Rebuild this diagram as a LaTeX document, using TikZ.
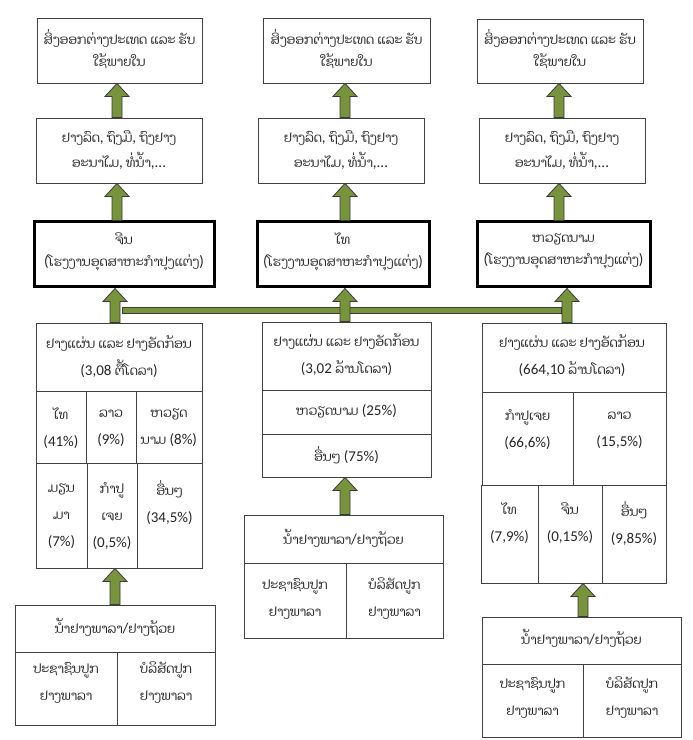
\documentclass[tikz,border=0pt]{standalone}
\usepackage{fontspec}
\setmainfont{Carlito}
\newfontfamily\laofont[Script=Lao, Scale=0.85]{Dhyana}
\newcommand\lo[1]{{\laofont #1}}
\usetikzlibrary{fit,calc}
\definecolor{arrowgreen}{HTML}{77933C}
\definecolor{arrowedge}{HTML}{3B3B3B}
\definecolor{boxedge}{HTML}{404040}
\tikzset{
  cell/.style={draw=boxedge, line width=0.9pt, inner sep=0pt, fill=white},
  heavy/.style={draw=black, line width=3pt, inner sep=0pt, fill=white},
  txt/.style={inner sep=0pt, align=center, text=black!85, font=\fontsize{15}{22}\selectfont},
  txtm/.style={txt, font=\fontsize{15}{25}\selectfont},
  txtw/.style={txt, font=\fontsize{15}{27}\selectfont},
  arrowbody/.style={draw=arrowedge, line width=0.8pt, fill=arrowgreen, line join=miter},
  barbody/.style={draw=arrowedge, line width=0.9pt, fill=arrowgreen},
}
\newcommand\greenarr[2]{\path[arrowbody] let \p1=(#1), \p2=(#2) in
  (\x1-5pt,\y1) -- (\x1-5pt,\y2-13pt) -- (\x1-12pt,\y2-13pt) -- (\x1,\y2) --
  (\x1+12pt,\y2-13pt) -- (\x1+5pt,\y2-13pt) -- (\x1+5pt,\y1) -- cycle;}
\begin{document}
\begin{tikzpicture}[x=1pt,y=1pt]
\path[use as bounding box, fill=white] (0,0) rectangle (693,740);
% arrow axes
\coordinate (ax1) at (117,0);
\coordinate (ax1b) at (115,0);
\coordinate (ax2) at (345,0);
\coordinate (ax3) at (559,0);
\coordinate (ax3b) at (567,0);
\coordinate (ax3c) at (583,0);
% ---------- column 1 ----------
\node[cell, fit={(37,722)(202,657)}] (top1) {};
\node[txt] (top1t) at (119.5,691) {\lo{ສິ່ງອອກຕ່າງປະເທດ ແລະ ຮັບ}\\\lo{ໃຊ້ພາຍໃນ}};
\node[cell, fit={(36,622)(202,557)}] (mid1) {};
\node[txtm] (mid1t) at (119,590) {\lo{ຢາງລົດ}, \lo{ຖົງມື}, \lo{ຖົງຢາງ}\\\lo{ອະນາໄມ}, \lo{ທໍ່ນໍ້າ},...};
\node[heavy, fit={(34,518)(214,453)}] (fac1) {};
\node[txt] (fac1t) at (124,488.5) {\lo{ຈີນ}\\(\lo{ໂຮງງານອຸດສາຫະກຳປຸງແຕ່ງ})};
% table 1
\node[cell, fit={(36,417)(202,349)}] (hd1) {};
\node[txtw] (hd1t) at (119,383.5) {\lo{ຢາງແຜ່ນ ແລະ ຢາງອັດກ້ອນ}\\(3,08 \lo{ຕື້ໂດລາ})};
\node[cell, fit={(36,349)(86,277)}] (r1c1) {};
\node[cell, fit={(86,349)(136,277)}] (r1c2) {};
\node[cell, fit={(136,349)(202,277)}] (r1c3) {};
\node[txtw] (r1c1t) at (61,312) {\lo{ໄທ}\\(41\%)};
\node[txtw] (r1c2t) at (111,312) {\lo{ລາວ}\\(9\%)};
\node[txtw] (r1c3t) at (169,312) {\lo{ຫວຽດ}\\\lo{ນາມ} (8\%)};
\node[cell, fit={(36,277)(87,172)}] (r2c1) {};
\node[cell, fit={(87,277)(137,172)}] (r2c2) {};
\node[cell, fit={(137,277)(202,172)}] (r2c3) {};
\node[txtw] (r2c1t) at (61.5,224) {\lo{ມຽນ}\\\lo{ມາ}\\(7\%)};
\node[txtw] (r2c2t) at (112,224) {\lo{ກຳປູ}\\\lo{ເຈຍ}\\(0,5\%)};
\node[txtw] (r2c3t) at (169.5,237.5) {\lo{ອື່ນໆ}\\(34,5\%)};
% source 1
\node[cell, fit={(15,135)(215,88)}] (b1h) {};
\node[txt] (b1ht) at (115,113) {\lo{ນ້ຳຢາງພາລາ}/\lo{ຢາງຖ້ວຍ}};
\node[cell, fit={(15,88)(117,15)}] (b1a) {};
\node[cell, fit={(117,88)(215,15)}] (b1b) {};
\node[txtw] (b1at) at (66,57) {\lo{ປະຊາຊົນປູກ}\\\lo{ຢາງພາລາ}};
\node[txtw] (b1bt) at (166,57) {\lo{ບໍລິສັດປູກ}\\\lo{ຢາງພາລາ}};
% ---------- column 2 ----------
\node[cell, fit={(263,722)(430,657)}] (top2) {};
\node[txt] (top2t) at (346.5,691) {\lo{ສິ່ງອອກຕ່າງປະເທດ ແລະ ຮັບ}\\\lo{ໃຊ້ພາຍໃນ}};
\node[cell, fit={(258,622)(424,557)}] (mid2) {};
\node[txtm] (mid2t) at (341,590) {\lo{ຢາງລົດ}, \lo{ຖົງມື}, \lo{ຖົງຢາງ}\\\lo{ອະນາໄມ}, \lo{ທໍ່ນໍ້າ},...};
\node[heavy, fit={(257.5,518)(429,453)}] (fac2) {};
\node[txt] (fac2t) at (343,488.5) {\lo{ໄທ}\\(\lo{ໂຮງງານອຸດສາຫະກຳປຸງແຕ່ງ})};
\node[cell, fit={(262,418)(431,350)}] (hd2) {};
\node[txtw] (hd2t) at (346.5,385) {\lo{ຢາງແຜ່ນ ແລະ ຢາງອັດກ້ອນ}\\(3,02 \lo{ລ້ານໂດລາ})};
\node[cell, fit={(262,350)(431,306)}] (m1) {};
\node[txt] (m1t) at (346.5,329) {\lo{ຫວຽດນາມ} (25\%)};
\node[cell, fit={(262,306)(431,263)}] (m2) {};
\node[txt] (m2t) at (346.5,285) {\lo{ອື່ນໆ} (75\%)};
\node[cell, fit={(244,225)(443,177)}] (b2h) {};
\node[txt] (b2ht) at (343.5,202) {\lo{ນ້ຳຢາງພາລາ}/\lo{ຢາງຖ້ວຍ}};
\node[cell, fit={(244,177)(346,102)}] (b2a) {};
\node[cell, fit={(346,177)(443,102)}] (b2b) {};
\node[txtw] (b2at) at (295,141) {\lo{ປະຊາຊົນປູກ}\\\lo{ຢາງພາລາ}};
\node[txtw] (b2bt) at (394.5,141) {\lo{ບໍລິສັດປູກ}\\\lo{ຢາງພາລາ}};
% ---------- column 3 ----------
\node[cell, fit={(477,721)(643,657)}] (top3) {};
\node[txt] (top3t) at (560,691) {\lo{ສິ່ງອອກຕ່າງປະເທດ ແລະ ຮັບ}\\\lo{ໃຊ້ພາຍໃນ}};
\node[cell, fit={(479,622)(645,557)}] (mid3) {};
\node[txtm] (mid3t) at (562,590) {\lo{ຢາງລົດ}, \lo{ຖົງມື}, \lo{ຖົງຢາງ}\\\lo{ອະນາໄມ}, \lo{ທໍ່ນໍ້າ},...};
\node[heavy, fit={(477.5,518)(650,453)}] (fac3) {};
\node[txt] (fac3t) at (563.5,488.5) {\lo{ຫວຽດນາມ}\\(\lo{ໂຮງງານອຸດສາຫະກຳປຸງແຕ່ງ})};
\node[cell, fit={(482,417)(666,348)}] (hd3) {};
\node[txtw] (hd3t) at (572,384.5) {\lo{ຢາງແຜ່ນ ແລະ ຢາງອັດກ້ອນ}\\(664,10 \lo{ລ້ານໂດລາ})};
\node[cell, fit={(482,348)(573,255)}] (s1c1) {};
\node[cell, fit={(573,348)(666,255)}] (s1c2) {};
\node[txtw] (s1c1t) at (527.5,310) {\lo{ກຳປູເຈຍ}\\(66,6\%)};
\node[txtw] (s1c2t) at (619.5,310) {\lo{ລາວ}\\(15,5\%)};
\node[cell, fit={(481,255)(538,157)}] (s2c1) {};
\node[cell, fit={(538,255)(602,157)}] (s2c2) {};
\node[cell, fit={(602,255)(666,157)}] (s2c3) {};
\node[txtw] (s2c1t) at (509.5,216.5) {\lo{ໄທ}\\(7,9\%)};
\node[txtw] (s2c2t) at (570,216.5) {\lo{ຈີນ}\\(0,15\%)};
\node[txtw] (s2c3t) at (634,216.5) {\lo{ອື່ນໆ}\\(9,85\%)};
\node[cell, fit={(482,123)(681,76)}] (b3h) {};
\node[txt] (b3ht) at (581.5,102) {\lo{ນ້ຳຢາງພາລາ}/\lo{ຢາງຖ້ວຍ}};
\node[cell, fit={(482,76)(583,3)}] (b3a) {};
\node[cell, fit={(583,76)(681,3)}] (b3b) {};
\node[txtw] (b3at) at (532.5,42) {\lo{ປະຊາຊົນປູກ}\\\lo{ຢາງພາລາ}};
\node[txtw] (b3bt) at (632,42) {\lo{ບໍລິສັດປູກ}\\\lo{ຢາງພາລາ}};
% ---------- horizontal link ----------
\coordinate (barL) at (122,427);
\coordinate (barR) at (561,433);
\draw[barbody] (barL) rectangle (barR);
% ---------- arrows ----------
\greenarr{mid1.north -| ax1}{top1.south -| ax1}
\greenarr{fac1.north -| ax1}{mid1.south -| ax1}
\greenarr{hd1.north -| ax1b}{fac1.south -| ax1b}
\greenarr{b1h.north -| ax1b}{r2c2.south -| ax1b}
\greenarr{mid2.north -| ax2}{top2.south -| ax2}
\greenarr{fac2.north -| ax2}{mid2.south -| ax2}
\greenarr{hd2.north -| ax2}{fac2.south -| ax2}
\greenarr{b2h.north -| ax2}{m2.south -| ax2}
\greenarr{mid3.north -| ax3}{top3.south -| ax3}
\greenarr{fac3.north -| ax3}{mid3.south -| ax3}
\greenarr{hd3.north -| ax3b}{fac3.south -| ax3b}
\greenarr{b3h.north -| ax3c}{s2c2.south -| ax3c}
\end{tikzpicture}
\end{document}
